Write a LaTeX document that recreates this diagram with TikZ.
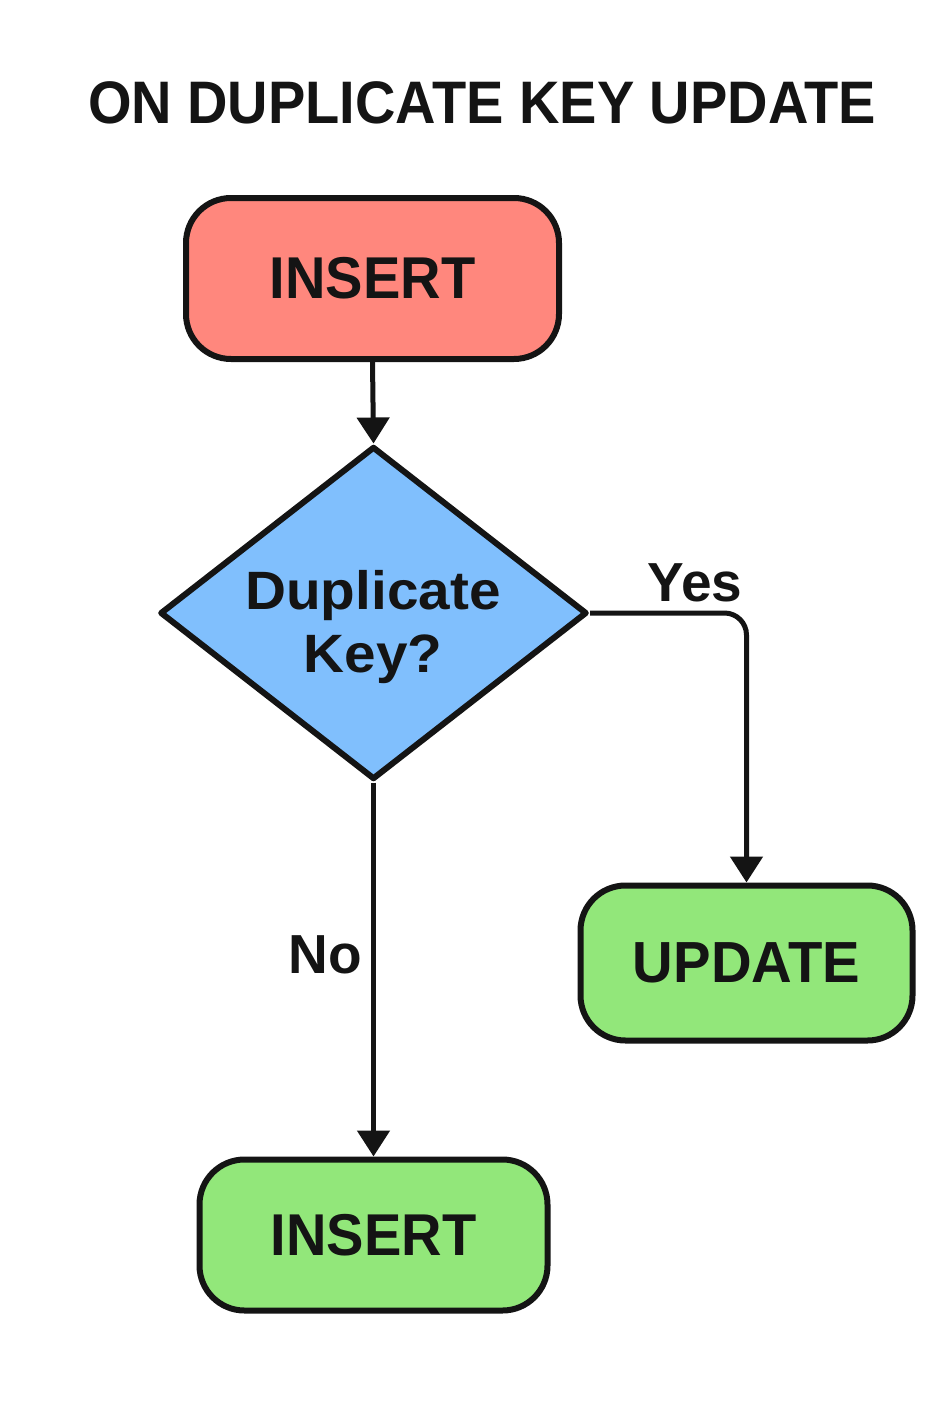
\documentclass[tikz,border=0pt]{standalone}
\usepackage{fontspec}
\setmainfont{Liberation Sans}
\usetikzlibrary{shapes.geometric,arrows.meta}
\definecolor{salmon}{HTML}{FF877D}
\definecolor{skyb}{HTML}{80BFFD}
\definecolor{lgreen}{HTML}{92E77A}
\definecolor{ink}{HTML}{141414}
\tikzset{
  box/.style={draw=ink, line width=6pt, rounded corners=45pt, inner sep=0pt, text=ink, font=\fontsize{59}{66}\selectfont\bfseries},
  dia/.style={draw=ink, line width=6pt, line join=round, shape=diamond, shape aspect=1.3, inner sep=0pt, fill=skyb},
  diatext/.style={text=ink, align=center, inner sep=0pt, font=\fontsize{54}{63}\selectfont\bfseries},
  conn/.style={draw=ink, line width=5pt, -{Triangle[length=26pt,width=32pt]}},
  lbl/.style={text=ink, font=\fontsize{55}{60}\selectfont\bfseries},
}
\begin{document}
\begin{tikzpicture}[x=1pt,y=-1pt]
\useasboundingbox[fill=white] (0,0) rectangle (945,1418);
\node[text=ink, font=\fontsize{60}{66}\selectfont\bfseries] (title) at (482,103) {\scalebox{0.933}[1]{ON DUPLICATE KEY UPDATE}};
\node[box, fill=salmon, minimum width=373pt, minimum height=161pt] (ins1) at (372.5,278.5) {\scalebox{0.95}[1]{INSERT}};
\node[dia, minimum width=427pt, minimum height=333pt] (q) at (373.5,613) {};
\node[diatext] (qtxt) at (373,627.5) {\scalebox{1.05}[1]{Duplicate}\\\scalebox{1.05}[1]{Key?}};
\node[box, fill=lgreen, minimum width=332pt, minimum height=155pt, font=\fontsize{58}{64}\selectfont\bfseries] (upd) at (746.5,963) {\scalebox{0.97}[1]{UPDATE}};
\node[box, fill=lgreen, minimum width=348pt, minimum height=151pt] (ins2) at (373.5,1235) {\scalebox{0.95}[1]{INSERT}};
\draw[conn] (ins1.south) -- (q.north);
\draw[conn, rounded corners=22pt] (q.east) -| (upd.north);
\draw[conn] (q.south) -- (ins2.north);
\node[lbl] (yes) at (695,583) {Yes};
\node[lbl] (no) at (325,955) {No};
\end{tikzpicture}
\end{document}
